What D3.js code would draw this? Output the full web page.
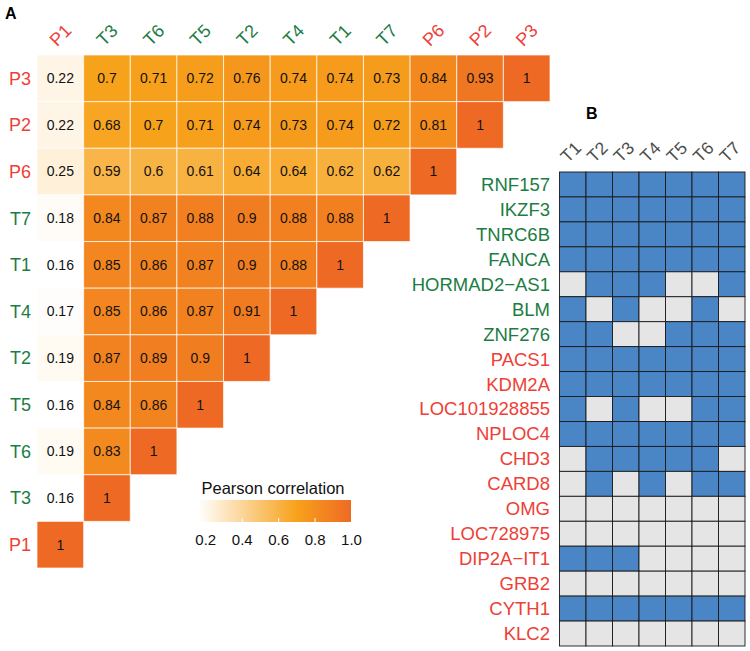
<!DOCTYPE html>
<html>
<head>
<meta charset="utf-8">
<script src="https://cdn.jsdelivr.net/npm/d3@7"></script>
<style>
  body { margin: 0; background: #fff; }
  text { font-family: "Liberation Sans", Arial, Helvetica, sans-serif; }
</style>
</head>
<body>
<script>
// panel A data
var rowLabels = ["P3", "P2", "P6", "T7", "T1", "T4", "T2", "T5", "T6", "T3", "P1"];
var colLabels = ["P1", "T3", "T6", "T5", "T2", "T4", "T1", "T7", "P6", "P2", "P3"];
var corrRows = [
  [0.22, 0.7, 0.71, 0.72, 0.76, 0.74, 0.74, 0.73, 0.84, 0.93, 1],
  [0.22, 0.68, 0.7, 0.71, 0.74, 0.73, 0.74, 0.72, 0.81, 1],
  [0.25, 0.59, 0.6, 0.61, 0.64, 0.64, 0.62, 0.62, 1],
  [0.18, 0.84, 0.87, 0.88, 0.9, 0.88, 0.88, 1],
  [0.16, 0.85, 0.86, 0.87, 0.9, 0.88, 1],
  [0.17, 0.85, 0.86, 0.87, 0.91, 1],
  [0.19, 0.87, 0.89, 0.9, 1],
  [0.16, 0.84, 0.86, 1],
  [0.19, 0.83, 1],
  [0.16, 1],
  [1]
];
var legendTicks = [0.2, 0.4, 0.6, 0.8, 1.0];

// panel B data
var samples = ["T1", "T2", "T3", "T4", "T5", "T6", "T7"];
var genes = ["RNF157", "IKZF3", "TNRC6B", "FANCA", "HORMAD2\u2212AS1", "BLM", "ZNF276",
  "PACS1", "KDM2A", "LOC101928855", "NPLOC4", "CHD3", "CARD8", "OMG", "LOC728975",
  "DIP2A\u2212IT1", "GRB2", "CYTH1", "KLC2"];
var geneGroup = ["T", "T", "T", "T", "T", "T", "T",
  "P", "P", "P", "P", "P", "P", "P", "P", "P", "P", "P", "P"];
var presence = [
  [1, 1, 1, 1, 1, 1, 1],
  [1, 1, 1, 1, 1, 1, 1],
  [1, 1, 1, 1, 1, 1, 1],
  [1, 1, 1, 1, 1, 1, 1],
  [0, 1, 1, 1, 0, 0, 1],
  [1, 0, 1, 0, 0, 1, 0],
  [1, 1, 0, 0, 1, 1, 1],
  [1, 1, 1, 1, 1, 1, 1],
  [1, 1, 1, 1, 1, 1, 1],
  [1, 0, 1, 0, 0, 1, 1],
  [1, 1, 1, 1, 1, 1, 1],
  [0, 1, 1, 1, 1, 1, 0],
  [0, 1, 0, 1, 0, 1, 1],
  [0, 0, 0, 0, 0, 0, 0],
  [0, 0, 0, 0, 0, 0, 0],
  [1, 1, 1, 0, 0, 0, 0],
  [0, 0, 0, 0, 0, 0, 0],
  [1, 1, 1, 1, 1, 1, 1],
  [0, 0, 0, 0, 0, 0, 0]
];

var green = "#1b7d43", red = "#ee4036";
function labCol(s) { return s[0] == "P" ? red : green; }

var svg = d3.select("body").append("svg").attr("width", 750).attr("height", 651);

// ---------- panel A ----------
var x = d3.scaleBand().domain(colLabels).range([37, 550]);
var y = d3.scaleBand().domain(rowLabels).range([55, 568]);
var color = d3.scaleLinear().domain([0.16, 0.7, 1]).range(["#ffffff", "#f7a21b", "#ee6a24"]);

var cells = [];
corrRows.forEach(function (r, i) {
  r.forEach(function (v, j) {
    cells.push({ row: rowLabels[i], col: colLabels[j], v: v });
  });
});

var gA = svg.append("g");
gA.selectAll("rect").data(cells).enter().append("rect")
  .attr("x", function (d) { return x(d.col); })
  .attr("y", function (d) { return y(d.row); })
  .attr("width", x.bandwidth())
  .attr("height", y.bandwidth())
  .attr("fill", function (d) { return color(d.v); })
  .attr("stroke", "#fff").attr("stroke-opacity", 0.7).attr("stroke-width", 1);

gA.selectAll("text.val").data(cells).enter().append("text")
  .attr("class", "val")
  .attr("x", function (d) { return x(d.col) + x.bandwidth() / 2; })
  .attr("y", function (d) { return y(d.row) + y.bandwidth() / 2; })
  .attr("text-anchor", "middle").attr("dy", "0.35em")
  .attr("font-size", 14).attr("fill", "#111")
  .text(function (d) { return d.v; });

// row labels
gA.selectAll("text.rl").data(rowLabels).enter().append("text")
  .attr("class", "rl")
  .attr("x", 31)
  .attr("y", function (d) { return y(d) + y.bandwidth() / 2; })
  .attr("text-anchor", "end").attr("dy", "0.35em")
  .attr("font-size", 18).attr("fill", labCol)
  .text(function (d) { return d; });

// column labels (rotated)
gA.selectAll("text.cl").data(colLabels).enter().append("text")
  .attr("class", "cl")
  .attr("transform", function (d) {
    return "translate(" + (x(d) + x.bandwidth() / 2) + ",35) rotate(-45)";
  })
  .attr("text-anchor", "middle").attr("dy", "0.35em")
  .attr("font-size", 18).attr("fill", labCol)
  .text(function (d) { return d; });

svg.append("text").attr("x", 5).attr("y", 19).attr("font-size", 16)
  .attr("font-weight", "bold").text("A");

// legend
var lx = d3.scaleLinear().domain([0.16, 1]).range([198, 351]);
var grad = svg.append("defs").append("linearGradient").attr("id", "lg");
d3.range(0, 1.0001, 0.05).forEach(function (t) {
  var v = 0.16 + t * 0.84;
  grad.append("stop").attr("offset", t).attr("stop-color", color(v));
});
svg.append("rect").attr("x", 198).attr("y", 500).attr("width", 153).attr("height", 22)
  .attr("fill", "url(#lg)");
svg.append("text").attr("x", 273).attr("y", 494).attr("text-anchor", "middle")
  .attr("font-size", 16.5).attr("fill", "#111").text("Pearson correlation");

var leg = svg.append("g").attr("transform", "translate(0,522)")
  .call(d3.axisBottom(lx).tickValues(legendTicks).tickFormat(d3.format(".1f"))
    .tickSizeInner(-4).tickSizeOuter(0).tickPadding(12));
leg.select(".domain").remove();
leg.selectAll(".tick line").attr("stroke", "#fff").attr("stroke-width", 1);
leg.selectAll(".tick text").attr("font-size", 15).attr("fill", "#111")
  .attr("font-family", "Liberation Sans, Arial, sans-serif");

// ---------- panel B ----------
var bx = d3.scaleBand().domain(samples).range([559.5, 745]);
var by = d3.scaleBand().domain(genes).range([172, 646]);

var bCells = [];
presence.forEach(function (r, i) {
  r.forEach(function (v, j) {
    bCells.push({ gene: genes[i], s: samples[j], v: v });
  });
});

var gB = svg.append("g");
gB.selectAll("rect").data(bCells).enter().append("rect")
  .attr("x", function (d) { return bx(d.s); })
  .attr("y", function (d) { return by(d.gene); })
  .attr("width", bx.bandwidth())
  .attr("height", by.bandwidth())
  .attr("fill", function (d) { return d.v ? "#4a86c6" : "#e5e5e5"; })
  .attr("stroke", "#1a1a1a").attr("stroke-width", 0.9);

gB.selectAll("text.gl").data(genes).enter().append("text")
  .attr("class", "gl")
  .attr("x", 550)
  .attr("y", function (d) { return by(d) + by.bandwidth() / 2; })
  .attr("text-anchor", "end").attr("dy", "0.35em")
  .attr("font-size", 18.5)
  .attr("fill", function (d, i) { return geneGroup[i] == "P" ? red : green; })
  .text(function (d) { return d; });

gB.selectAll("text.sl").data(samples).enter().append("text")
  .attr("class", "sl")
  .attr("transform", function (d) {
    return "translate(" + (bx(d) + bx.bandwidth() / 2 - 2) + ",152) rotate(-45)";
  })
  .attr("text-anchor", "middle").attr("dy", "0.35em")
  .attr("font-size", 17.5).attr("fill", "#4d4d4d")
  .text(function (d) { return d; });

svg.append("text").attr("x", 586).attr("y", 119).attr("font-size", 16)
  .attr("font-weight", "bold").text("B");
</script>
</body>
</html>
